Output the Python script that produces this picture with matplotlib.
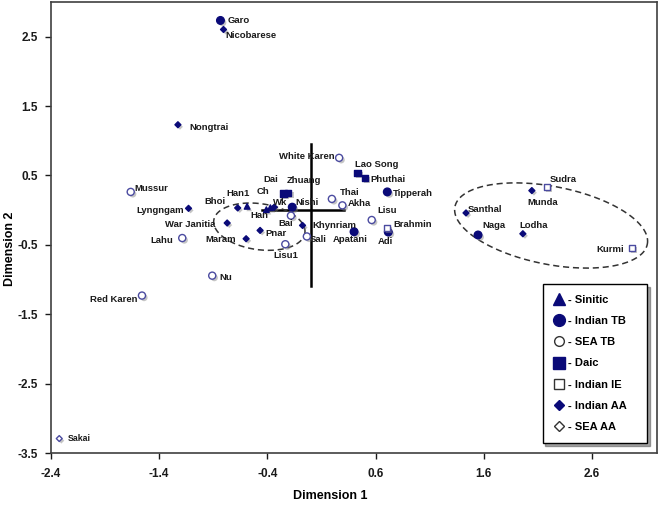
import matplotlib
matplotlib.use("Agg")
import numpy as np
import matplotlib.pyplot as plt
import matplotlib.patheffects as pe
from matplotlib.lines import Line2D

# populations: name, dimension 1, dimension 2, language group
names = ["Han1", "Han", "Ch",
         "Garo", "Tipperah", "Adi", "Apatani", "Nishi", "Naga",
         "White Karen", "Thai", "Akha", "Lisu", "Sali", "Bai", "Lisu1", "Nu",
         "Mussur", "Lahu", "Red Karen",
         "Lao Song", "Phuthai", "Dai", "Zhuang",
         "Brahmin", "Sudra", "Kurmi",
         "Nicobarese", "Nongtrai", "Lyngngam", "Bhoi", "War Janitia", "Maram",
         "Pnar", "Wk", "Khynriam", "Santhal", "Munda", "Lodha",
         "Sakai"]
dim1 = [-0.586, -0.408, -0.371,
        -0.832, 0.709, 0.718, 0.402, -0.169, 1.547,
        0.264, 0.197, 0.294, 0.565, -0.034, -0.181, -0.233, -0.908,
        -1.661, -1.185, -1.557,
        0.432, 0.503, -0.249, -0.206,
        0.709, 2.182, 2.965,
        -0.804, -1.225, -1.127, -0.673, -0.770, -0.595,
        -0.466, -0.335, -0.074, 1.436, 2.044, 1.961,
        -2.321]
dim2 = [0.055, 0.007, 0.036,
        2.734, 0.263, -0.315, -0.311, 0.043, -0.358,
        0.754, 0.162, 0.069, -0.142, -0.379, -0.079, -0.491, -0.944,
        0.263, -0.402, -1.231,
        0.538, 0.465, 0.238, 0.249,
        -0.257, 0.329, -0.546,
        2.604, 1.231, 0.026, 0.032, -0.185, -0.412,
        -0.292, 0.043, -0.220, -0.040, 0.282, -0.340,
        -3.292]
group = (["Sinitic"] * 3 + ["Indian TB"] * 6 + ["SEA TB"] * 11 + ["Daic"] * 4
         + ["Indian IE"] * 3 + ["Indian AA"] * 12 + ["SEA AA"])

groups = ["Sinitic", "Indian TB", "SEA TB", "Daic", "Indian IE", "Indian AA", "SEA AA"]

NAVY = "#0a0a78"
OPEN = "#4b4ba0"
styles = {
    "Sinitic": dict(marker="^", s=16, fc=NAVY, ec=NAVY),
    "Indian TB": dict(marker="o", s=30, fc=NAVY, ec=NAVY),
    "SEA TB": dict(marker="o", s=26, fc="white", ec=OPEN),
    "Daic": dict(marker="s", s=22, fc=NAVY, ec=NAVY),
    "Indian IE": dict(marker="s", s=18, fc="white", ec=OPEN),
    "Indian AA": dict(marker="D", s=9, fc=NAVY, ec=NAVY),
    "SEA AA": dict(marker="D", s=9, fc="white", ec=OPEN),
}

# label placement (pixel offsets from the marker, horizontal alignment)
label_pos = {
    "Garo": (7, 0, "left"), "Nicobarese": (2, -6, "left"), "Nongtrai": (11, -3, "left"),
    "White Karen": (-5, 1, "right"), "Lao Song": (-2, 8, "left"), "Phuthai": (5, -2, "left"),
    "Tipperah": (6, -2, "left"), "Thai": (8, 6, "left"), "Akha": (5, 2, "left"),
    "Lisu": (6, 10, "left"), "Brahmin": (6, 3, "left"), "Adi": (-3, -9, "center"),
    "Apatani": (-4, -8, "center"), "Khynriam": (10, 0, "left"), "Sali": (3, -3, "left"),
    "Bai": (-5, -8, "center"), "Nishi": (3, 5, "left"), "Zhuang": (-1, 12, "left"),
    "Dai": (-13, 14, "center"), "Ch": (-7, 16, "center"), "Han": (-7, -6, "center"),
    "Wk": (-1, 5, "left"), "Han1": (-9, 13, "center"), "Bhoi": (-12, 6, "right"),
    "Pnar": (5, -3, "left"), "Maram": (-10, -1, "right"), "War Janitia": (-12, -2, "right"),
    "Lisu1": (0, -11, "center"), "Nu": (7, -2, "left"), "Mussur": (4, 3, "left"),
    "Lyngngam": (-5, -2, "right"), "Lahu": (-9, -2, "right"), "Red Karen": (-4, -4, "right"),
    "Sakai": (9, 0, "left"), "Sudra": (3, 8, "left"), "Munda": (11, -12, "center"),
    "Santhal": (2, 3, "left"), "Naga": (4, 9, "left"), "Lodha": (-3, 8, "left"),
    "Kurmi": (-8, -1, "right"),
}


def dashed_ellipse(ax, cx, cy, a, b, angle):
    # a, b are semi axes in screen pixels, angle in degrees
    t = np.linspace(0, 2 * np.pi, 300)
    th = np.deg2rad(angle)
    u, v = a * np.cos(t), b * np.sin(t)
    c = ax.transData.transform((cx, cy))
    pts = np.column_stack([c[0] + u * np.cos(th) - v * np.sin(th),
                           c[1] + u * np.sin(th) + v * np.cos(th)])
    pts = ax.transData.inverted().transform(pts)
    ax.plot(pts[:, 0], pts[:, 1], ls=(0, (4, 2.5)), color="#333333", lw=1.1)


def main():
    plt.rcParams["font.family"] = ["Liberation Sans", "DejaVu Sans"]
    plt.rcParams["font.weight"] = "bold"

    fig = plt.figure(figsize=(6.61, 5.07), dpi=100)
    ax = fig.add_axes([50.7 / 661, 1 - 453 / 507, (657 - 50.7) / 661, (453 - 2) / 507])
    ax.set_xlim(-2.4, 3.2)
    ax.set_ylim(-3.5, 3.0)

    shadow = [pe.SimplePatchShadow(offset=(1.5, -1.5), shadow_rgbFace="0.5", alpha=0.45), pe.Normal()]
    x = np.array(dim1)
    y = np.array(dim2)
    g = np.array(group)
    for name in groups:
        st = styles[name]
        m = g == name
        ax.scatter(x[m], y[m], marker=st["marker"], s=st["s"], facecolors=st["fc"],
                   edgecolors=st["ec"], linewidths=1.0, zorder=3, path_effects=shadow)

    for n, xi, yi in zip(names, dim1, dim2):
        dx, dy, ha = label_pos[n]
        ax.annotate(n, (xi, yi), xytext=(dx, dy), textcoords="offset pixels",
                    ha=ha, va="center", fontsize=6.8 if n != "Sakai" else 6.3,
                    fontweight="bold", color="#1a1a1a", zorder=4)

    # cross at the origin
    ax.plot([-0.45, 0.31], [0, 0], color="black", lw=1.8, zorder=2)
    ax.plot([0, 0], [-1.1, 0.95], color="black", lw=1.8, zorder=2)

    dashed_ellipse(ax, -0.473, -0.238, 46, 23, -8)
    dashed_ellipse(ax, 2.222, -0.221, 98, 39, -11)

    xt = np.arange(-2.4, 2.61, 1.0)
    yt = np.arange(-3.5, 2.51, 1.0)
    ax.set_xticks(xt)
    ax.set_xticklabels([f"{v:.1f}" for v in xt])
    ax.set_yticks(yt)
    ax.set_yticklabels([f"{v:.1f}" for v in yt])
    ax.tick_params(axis="both", direction="out", length=4, width=1, labelsize=8.5, colors="#1a1a1a")
    ax.tick_params(axis="x", pad=7)
    ax.tick_params(axis="y", pad=5)
    for sp in ax.spines.values():
        sp.set_color("#404040")
        sp.set_linewidth(1.2)

    fig.text(330 / 661, 1 - 496 / 507, "Dimension 1", ha="center", va="center",
             fontsize=9, fontweight="bold")
    fig.text(10 / 661, 1 - 249 / 507, "Dimension 2", ha="center", va="center",
             rotation=90, fontsize=9, fontweight="bold")

    leg_style = {
        "Sinitic": dict(marker="^", ms=8.5, mfc=NAVY, mec=NAVY),
        "Indian TB": dict(marker="o", ms=8.5, mfc=NAVY, mec=NAVY),
        "SEA TB": dict(marker="o", ms=7, mfc="white", mec="#333333"),
        "Daic": dict(marker="s", ms=8, mfc=NAVY, mec=NAVY),
        "Indian IE": dict(marker="s", ms=7, mfc="white", mec="#333333"),
        "Indian AA": dict(marker="D", ms=5, mfc=NAVY, mec=NAVY),
        "SEA AA": dict(marker="D", ms=5.5, mfc="white", mec="#333333"),
    }
    handles = [Line2D([], [], ls="none", **leg_style[k]) for k in groups]
    labels = ["- " + k + "   " for k in groups]
    leg = ax.legend(handles, labels, loc="upper left", bbox_to_anchor=(0.8115, 0.3747),
                    frameon=True, fancybox=False, shadow=True, edgecolor="black",
                    framealpha=1, prop=dict(size=8, weight="bold"), handlelength=1.0,
                    handletextpad=0.3, labelspacing=1.0, borderpad=1.0, borderaxespad=0)
    leg.get_frame().set_linewidth(1.0)

    fig.savefig("out.png", dpi=100)


if __name__ == "__main__":
    main()
